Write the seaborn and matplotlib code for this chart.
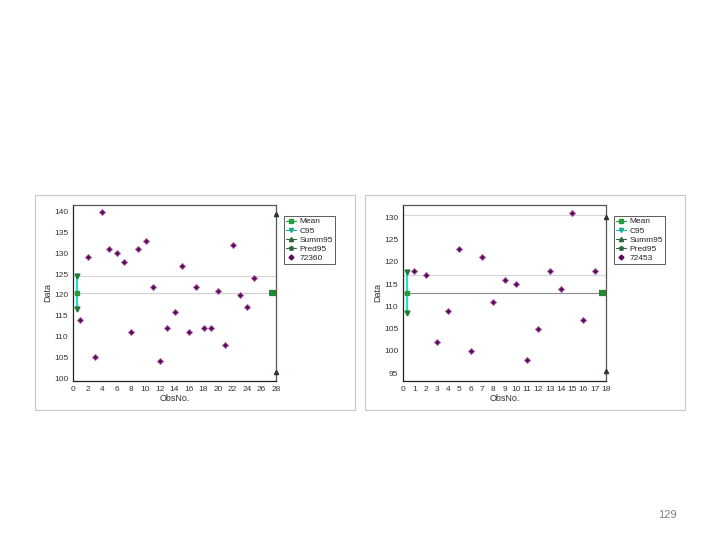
import matplotlib
matplotlib.use("Agg")
import matplotlib.pyplot as plt
import numpy as np
import pandas as pd
import seaborn as sns
from matplotlib.lines import Line2D
from matplotlib.patches import Rectangle

# left chart: 25 observations
left_obs = list(range(1, 26))
left_vals = [114, 129, 105, 140, 131, 130, 128, 111, 131, 133, 122, 104, 112,
             116, 127, 111, 122, 112, 112, 121, 108, 132, 120, 117, 124]
left_mean = 120.5
left_c95 = (116.6, 124.6)
left_pred95 = (101.4, 139.4)
left_label = "72360"

# right chart: 17 observations
right_obs = list(range(1, 18))
right_vals = [118, 117, 102, 109, 123, 100, 121, 111, 116, 115, 98, 105, 118,
              114, 131, 107, 118]
right_mean = 113.0
right_c95 = (108.4, 117.8)
right_pred95 = (95.4, 130.0)
right_label = "72453"

legend_names = ["Mean", "C95", "Summ95", "Pred95"]

sns.set_style("white")
plt.rcParams["font.family"] = ["Liberation Sans", "DejaVu Sans"]

fig = plt.figure(figsize=(7.2, 5.4), dpi=100)


def draw_panel(rect, frame, obs, vals, mean, c95, pred95, label, xmax, ylim,
               yticks, xticks, guides, mean_color):
    # light grey frame around the pasted picture
    fig.patches.append(Rectangle((frame[0], frame[1]), frame[2], frame[3],
                                 transform=fig.transFigure, fill=False,
                                 edgecolor="#c8c8c8", linewidth=0.8))
    ax = fig.add_axes(rect)
    for g in guides:
        ax.axhline(g, color="#d6d6d6", linewidth=0.8, zorder=1)
    ax.axhline(mean, color=mean_color, linewidth=0.8, zorder=1)

    df = pd.DataFrame({"ObsNo.": obs, "Data": vals})
    sns.scatterplot(data=df, x="ObsNo.", y="Data", ax=ax, marker="D", s=10,
                    color="#5c0a5c", edgecolor="#b070b0", linewidth=0.6, zorder=3)

    # C95 bar at the left edge
    cx = xmax * 0.019
    ax.plot([cx, cx], list(c95), color="#22e0c0", linewidth=1.6, zorder=4)
    ax.plot([cx, cx], list(c95), linestyle="none", marker="v", markersize=3.5,
            color="#1e7a3c", zorder=5)
    ax.plot([cx], [mean], marker="s", markersize=3.5, color="#1f9e3a", zorder=5)

    # mean marker and Pred95 at the right edge
    ax.plot([xmax * 0.965, xmax], [mean, mean], color="#1f8a30",
            linewidth=4.5, solid_capstyle="butt", zorder=5, clip_on=False)
    ax.plot([xmax, xmax], list(pred95), linestyle="none", marker="^",
            markersize=3, color="#2a3a2a", zorder=5, clip_on=False)

    ax.set_xlim(0, xmax)
    ax.set_ylim(*ylim)
    ax.set_xticks(xticks)
    ax.set_yticks(yticks)
    ax.tick_params(labelsize=6, length=2, pad=1.5, colors="#333333")
    ax.set_xlabel("ObsNo.", fontsize=6.5, labelpad=0.5, color="#333333")
    ax.set_ylabel("Data", fontsize=6.5, labelpad=1, color="#333333")
    for side in ["left", "bottom", "right", "top"]:
        ax.spines[side].set_visible(True)
        ax.spines[side].set_linewidth(0.9)
        ax.spines[side].set_color("#222222")
    ax.spines["top"].set_color("#555555")
    ax.spines["right"].set_color("#555555")

    handles = [
        Line2D([], [], color="#1f9e3a", marker="s", markersize=3, linewidth=0.8),
        Line2D([], [], color="#19b090", marker="v", markersize=3, linewidth=0.8),
        Line2D([], [], color="#2a6a3a", marker="^", markersize=3, linewidth=0.8),
        Line2D([], [], color="#2a6a3a", marker="p", markersize=3, linewidth=0.8),
        Line2D([], [], color="#5c0a5c", marker="D", markersize=2.5, linewidth=0),
    ]
    leg = ax.legend(handles, legend_names + [label], loc="upper left",
                    bbox_to_anchor=(1.04, 0.94), fontsize=6, frameon=True,
                    fancybox=False, handlelength=1.2, handletextpad=0.4,
                    borderpad=0.25, labelspacing=0.15, borderaxespad=0)
    leg.get_frame().set_edgecolor("#333333")
    leg.get_frame().set_linewidth(0.7)
    return ax


draw_panel([73 / 720, 1 - 381 / 540, 203 / 720, 176 / 540],
           (35 / 720, 1 - 410 / 540, 320 / 720, 215 / 540),
           left_obs, left_vals, left_mean, left_c95, left_pred95, left_label,
           28, (99.3, 141.6), list(range(100, 141, 5)), list(range(0, 29, 2)),
           [124.6], "#d0d0d0")

draw_panel([403 / 720, 1 - 381 / 540, 203 / 720, 176 / 540],
           (365 / 720, 1 - 410 / 540, 320 / 720, 215 / 540),
           right_obs, right_vals, right_mean, right_c95, right_pred95, right_label,
           18, (93.2, 132.8), list(range(95, 131, 5)), list(range(0, 19)),
           [130.5, 117.0], "#8a8a8a")

fig.text(667 / 720, 1 - 515 / 540, "129", fontsize=8, color="#808080",
         ha="center", va="center")

fig.savefig("out.png", dpi=100)
